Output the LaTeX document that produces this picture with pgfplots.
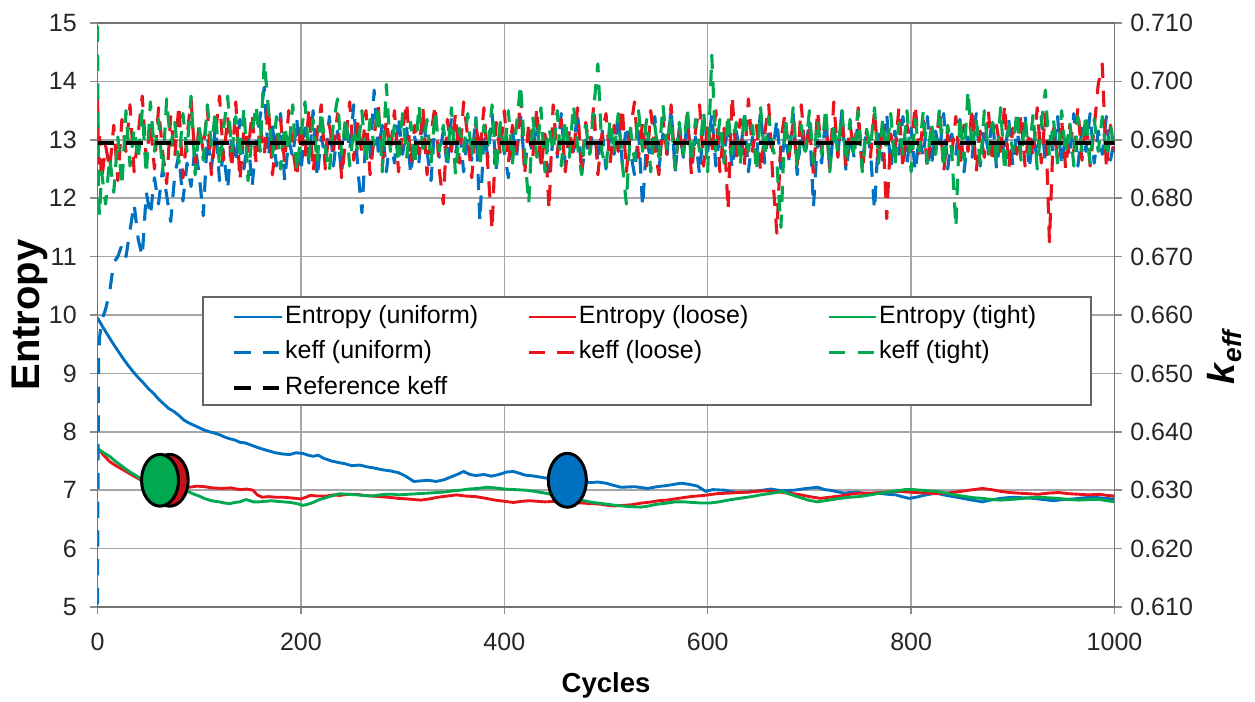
\documentclass[border=0pt]{standalone}
\usepackage{fontspec}
\setmainfont{Liberation Sans}
\usepackage{pgfplots}
\pgfplotsset{compat=1.18}
\usepackage{pgfplotstable}

\definecolor{exblue}{RGB}{0,112,192}
\definecolor{exred}{RGB}{232,20,28}
\definecolor{exgreen}{RGB}{0,168,80}

% entropy, one table per source
\pgfplotstableread{
cyc e
0 9.95
5 9.80
10 9.66
15 9.52
20 9.39
25 9.26
30 9.14
35 9.03
40 8.93
45 8.84
50 8.74
55 8.66
60 8.56
65 8.48
70 8.40
75 8.35
80 8.28
85 8.20
90 8.15
95 8.11
100 8.07
105 8.03
110 8.00
115 7.98
120 7.95
125 7.91
130 7.88
135 7.86
140 7.82
145 7.81
150 7.78
156 7.74
163 7.70
169 7.67
175 7.64
182 7.62
189 7.61
195 7.64
202 7.63
207 7.60
212 7.58
217 7.60
222 7.55
230 7.50
238 7.47
244 7.45
250 7.42
258 7.43
265 7.40
272 7.38
280 7.35
288 7.33
296 7.30
303 7.24
311 7.15
318 7.16
325 7.17
333 7.15
341 7.18
348 7.23
355 7.28
360 7.32
366 7.27
372 7.25
380 7.27
387 7.24
395 7.27
402 7.31
409 7.32
415 7.29
420 7.26
430 7.24
440 7.21
450 7.19
460 7.17
472 7.15
485 7.13
492 7.14
500 7.12
508 7.08
515 7.05
528 7.06
541 7.03
550 7.06
560 7.08
574 7.12
582 7.10
590 7.07
598 6.98
605 7.01
617 7.00
628 6.96
640 6.97
650 6.99
662 7.02
673 6.99
685 7.00
697 7.03
708 7.05
715 7.01
720 7.00
734 6.95
745 6.97
756 6.94
768 6.95
777 6.93
785 6.92
791 6.89
798 6.86
805 6.88
812 6.91
824 6.95
835 6.91
845 6.88
857 6.84
870 6.80
878 6.83
888 6.86
900 6.88
910 6.87
920 6.86
930 6.84
940 6.82
950 6.84
960 6.85
970 6.87
980 6.88
990 6.86
1000 6.85
}\entuniform

\pgfplotstableread{
cyc e
0 7.72
6 7.60
12 7.49
18 7.42
25 7.35
32 7.28
38 7.22
43 7.17
49 7.13
55 7.10
62 7.09
70 7.07
80 7.06
90 7.05
98 7.07
105 7.06
113 7.04
123 7.03
131 7.04
140 7.01
147 7.02
153 7.00
157 6.92
162 6.88
168 6.89
175 6.88
182 6.88
189 6.87
195 6.86
200 6.85
205 6.88
209 6.91
216 6.90
225 6.90
232 6.92
238 6.91
246 6.93
255 6.93
262 6.91
270 6.90
278 6.89
285 6.88
291 6.87
296 6.86
305 6.85
311 6.84
318 6.83
326 6.85
335 6.88
344 6.90
353 6.92
362 6.90
372 6.89
382 6.86
391 6.83
400 6.81
409 6.79
417 6.81
425 6.82
432 6.81
440 6.80
450 6.81
460 6.81
468 6.79
477 6.78
486 6.77
495 6.76
502 6.74
508 6.73
516 6.74
525 6.75
535 6.78
545 6.80
552 6.82
560 6.83
571 6.86
583 6.89
596 6.91
609 6.94
620 6.95
630 6.96
642 6.97
655 6.99
665 6.98
675 6.96
684 6.94
692 6.92
700 6.89
711 6.86
720 6.88
730 6.90
740 6.93
749 6.95
760 6.95
770 6.96
779 6.97
787 6.98
796 6.97
805 6.96
815 6.95
824 6.94
834 6.95
845 6.97
857 7.00
870 7.03
879 7.01
888 6.98
897 6.96
905 6.95
915 6.94
925 6.93
935 6.95
945 6.96
955 6.94
965 6.93
975 6.92
985 6.93
993 6.91
1000 6.90
}\entloose

\pgfplotstableread{
cyc e
0 7.72
6 7.64
12 7.58
18 7.49
25 7.40
32 7.31
38 7.25
42 7.20
48 7.15
55 7.10
62 7.06
70 7.03
80 6.99
90 6.97
95 6.93
100 6.90
105 6.86
110 6.83
115 6.81
120 6.80
125 6.78
130 6.77
135 6.79
140 6.80
146 6.84
150 6.82
153 6.80
159 6.80
165 6.81
171 6.82
176 6.81
183 6.80
190 6.79
196 6.77
202 6.74
207 6.76
212 6.79
217 6.83
222 6.86
230 6.90
238 6.94
246 6.93
255 6.92
262 6.91
270 6.90
278 6.92
285 6.93
291 6.93
296 6.92
305 6.93
315 6.94
325 6.95
334 6.96
342 6.97
350 6.99
357 7.00
365 7.02
374 7.03
383 7.05
391 7.04
400 7.02
410 7.01
421 7.00
430 6.98
440 6.95
449 6.92
458 6.89
466 6.86
475 6.83
484 6.80
492 6.78
501 6.76
510 6.74
522 6.72
534 6.71
542 6.73
550 6.76
560 6.78
568 6.80
577 6.80
585 6.79
594 6.78
602 6.78
611 6.80
620 6.83
631 6.86
643 6.89
652 6.92
660 6.94
667 6.96
673 6.98
681 6.93
690 6.88
699 6.83
708 6.80
719 6.83
730 6.86
740 6.88
749 6.89
760 6.92
770 6.95
782 6.98
794 7.01
802 7.01
810 7.00
817 6.99
824 6.98
832 6.96
840 6.93
847 6.91
854 6.89
862 6.87
870 6.86
879 6.84
888 6.83
896 6.84
905 6.85
915 6.87
925 6.88
935 6.87
945 6.86
955 6.84
965 6.83
975 6.84
985 6.84
993 6.82
1000 6.80
}\enttight

% keff (every 4th cycle after the start): uniform, loose, tight
\pgfplotstableread{
cyc u l t
0 0.6105 0.6975 0.7095
1 0.6520 0.6860 0.6800
2 0.6560 0.6905 0.6770
4 0.6590 0.6830 0.6845
8 0.6610 0.6890 0.6790
12 0.6640 0.6850 0.6870
16 0.6690 0.6925 0.6810
20 0.6700 0.6830 0.6905
24 0.6720 0.6935 0.6820
28 0.6700 0.6880 0.6950
32 0.6745 0.6960 0.6855
36 0.6790 0.6845 0.6920
40 0.6730 0.6910 0.6865
44 0.6700 0.6975 0.6950
48 0.6810 0.6865 0.6840
52 0.6770 0.6930 0.6965
56 0.6835 0.6850 0.6880
60 0.6790 0.6955 0.6935
64 0.6850 0.6880 0.6845
68 0.6805 0.6825 0.6970
72 0.6760 0.6940 0.6890
76 0.6840 0.6870 0.6930
80 0.6875 0.6960 0.6860
84 0.6795 0.6835 0.6945
88 0.6860 0.6905 0.6880
92 0.6820 0.6970 0.6975
96 0.6890 0.6860 0.6840
100 0.6840 0.6925 0.6925
104 0.6770 0.6880 0.6865
108 0.6905 0.6955 0.6960
112 0.6850 0.6840 0.6890
116 0.6925 0.6910 0.6950
120 0.6830 0.6975 0.6855
124 0.6880 0.6865 0.6920
128 0.6815 0.6940 0.6975
132 0.6910 0.6850 0.6880
136 0.6860 0.6965 0.6940
140 0.6935 0.6830 0.6865
144 0.6850 0.6920 0.6955
148 0.6905 0.6880 0.6830
152 0.6820 0.6945 0.6910
156 0.6895 0.6860 0.6960
160 0.6940 0.6925 0.6880
164 0.6990 0.6875 0.7035
168 0.6870 0.6960 0.6955
172 0.6925 0.6840 0.6870
176 0.6855 0.6905 0.6940
180 0.6945 0.6935 0.6850
184 0.6830 0.6860 0.6925
188 0.6900 0.6950 0.6880
192 0.6870 0.6885 0.6960
196 0.6935 0.6835 0.6845
200 0.6845 0.6930 0.6905
204 0.6920 0.6870 0.6965
208 0.6860 0.6955 0.6870
212 0.6950 0.6845 0.6935
216 0.6835 0.6910 0.6860
220 0.6905 0.6960 0.6950
224 0.6870 0.6850 0.6885
228 0.6940 0.6925 0.6845
232 0.6855 0.6880 0.6930
236 0.6915 0.6945 0.6970
240 0.6840 0.6835 0.6875
244 0.6935 0.6900 0.6940
248 0.6880 0.6965 0.6855
252 0.6960 0.6865 0.6920
256 0.6850 0.6930 0.6880
260 0.6775 0.6875 0.6950
264 0.6910 0.6950 0.6860
268 0.6865 0.6840 0.6935
272 0.6985 0.6905 0.6890
276 0.6880 0.6960 0.6960
280 0.6925 0.6855 0.6845
284 0.6845 0.6935 0.6995
288 0.6905 0.6880 0.6880
292 0.6860 0.6950 0.6925
296 0.6940 0.6845 0.6860
300 0.6875 0.6915 0.6945
304 0.6920 0.6965 0.6870
308 0.6840 0.6860 0.6930
312 0.6905 0.6925 0.6855
316 0.6860 0.6875 0.6960
320 0.6945 0.6955 0.6885
324 0.6880 0.6840 0.6935
328 0.6830 0.6910 0.6860
332 0.6935 0.6960 0.6950
336 0.6870 0.6850 0.6880
340 0.6915 0.6790 0.6925
344 0.6850 0.6935 0.6865
348 0.6940 0.6880 0.6955
352 0.6875 0.6945 0.6840
356 0.6920 0.6860 0.6920
360 0.6845 0.6965 0.6880
364 0.6905 0.6905 0.6945
368 0.6865 0.6835 0.6870
372 0.6940 0.6925 0.6935
376 0.6760 0.6880 0.6855
380 0.6910 0.6955 0.6925
384 0.6870 0.6850 0.6890
388 0.6945 0.6745 0.6960
392 0.6850 0.6930 0.6845
396 0.6925 0.6875 0.6930
400 0.6880 0.6950 0.6875
404 0.6835 0.6860 0.6950
408 0.6915 0.6925 0.6860
412 0.6870 0.6880 0.6925
416 0.6940 0.6975 0.6995
420 0.6855 0.6840 0.6880
424 0.6905 0.6930 0.6790
428 0.6875 0.6870 0.6940
432 0.6935 0.6955 0.6870
436 0.6860 0.6850 0.6955
440 0.6920 0.6910 0.6845
444 0.6845 0.6780 0.6920
448 0.6900 0.6960 0.6880
452 0.6870 0.6875 0.6950
456 0.6945 0.6935 0.6855
460 0.6855 0.6845 0.6935
464 0.6915 0.6920 0.6870
468 0.6880 0.6870 0.6960
472 0.6950 0.6955 0.6890
476 0.6840 0.6850 0.6840
480 0.6900 0.6930 0.6925
484 0.6870 0.6885 0.6875
488 0.6935 0.6960 0.6955
492 0.6860 0.6840 0.7030
496 0.6920 0.6910 0.6880
500 0.6850 0.6945 0.6850
504 0.6910 0.6860 0.6935
508 0.6875 0.6925 0.6875
512 0.6945 0.6880 0.6945
516 0.6860 0.6955 0.6860
520 0.6925 0.6845 0.6790
524 0.6880 0.6915 0.6920
528 0.6840 0.6965 0.6865
532 0.6915 0.6870 0.6950
536 0.6785 0.6930 0.6880
540 0.6900 0.6855 0.6935
544 0.6865 0.6950 0.6845
548 0.6940 0.6885 0.6925
552 0.6850 0.6840 0.6870
556 0.6910 0.6935 0.6960
560 0.6875 0.6875 0.6885
564 0.6955 0.6960 0.6940
568 0.6845 0.6850 0.6850
572 0.6920 0.6920 0.6930
576 0.6870 0.6870 0.6875
580 0.6935 0.6945 0.6955
584 0.6860 0.6840 0.6860
588 0.6905 0.6915 0.6935
592 0.6840 0.6960 0.6880
596 0.6925 0.6855 0.6950
600 0.6880 0.6930 0.6845
604 0.6945 0.6875 0.7045
608 0.6855 0.6950 0.6880
612 0.6910 0.6845 0.6935
616 0.6865 0.6920 0.6860
620 0.6935 0.6780 0.6945
624 0.6850 0.6975 0.6875
628 0.6915 0.6870 0.6930
632 0.6875 0.6935 0.6855
636 0.6940 0.6855 0.6950
640 0.6845 0.6970 0.6880
644 0.6905 0.6880 0.6925
648 0.6870 0.6925 0.6845
652 0.6950 0.6845 0.6955
656 0.6860 0.6910 0.6870
660 0.6920 0.6960 0.6940
664 0.6880 0.6835 0.6885
668 0.6935 0.6740 0.6860
672 0.6850 0.6900 0.6750
676 0.6910 0.6945 0.6935
680 0.6865 0.6870 0.6880
684 0.6945 0.6930 0.6955
688 0.6840 0.6855 0.6850
692 0.6915 0.6960 0.6925
696 0.6875 0.6875 0.6880
700 0.6935 0.6925 0.6950
704 0.6785 0.6840 0.6860
708 0.6900 0.6950 0.6935
712 0.6860 0.6880 0.6875
716 0.6940 0.6935 0.6955
720 0.6850 0.6850 0.6845
724 0.6920 0.6965 0.6925
728 0.6875 0.6870 0.6880
732 0.6950 0.6940 0.6950
736 0.6845 0.6855 0.6860
740 0.6905 0.6925 0.6935
744 0.6870 0.6880 0.6870
748 0.6935 0.6955 0.6950
752 0.6855 0.6845 0.6845
756 0.6920 0.6915 0.6920
760 0.6880 0.6870 0.6885
764 0.6780 0.6950 0.6955
768 0.6910 0.6860 0.6860
772 0.6865 0.6930 0.6935
776 0.6945 0.6765 0.6880
780 0.6850 0.6910 0.6945
784 0.6915 0.6875 0.6855
788 0.6875 0.6955 0.6930
792 0.6940 0.6850 0.6875
796 0.6860 0.6925 0.6950
800 0.6920 0.6880 0.6845
804 0.6845 0.6960 0.6935
808 0.6905 0.6870 0.6880
812 0.6870 0.6935 0.6950
816 0.6940 0.6850 0.6860
820 0.6855 0.6920 0.6930
824 0.6915 0.6875 0.6875
828 0.6880 0.6955 0.6955
832 0.6945 0.6845 0.6850
836 0.6850 0.6910 0.6925
840 0.6910 0.6875 0.6880
844 0.6875 0.6940 0.6750
848 0.6935 0.6860 0.6940
852 0.6845 0.6925 0.6865
856 0.6905 0.6880 0.6985
860 0.6870 0.6955 0.6880
864 0.6945 0.6845 0.6935
868 0.6855 0.6915 0.6855
872 0.6920 0.6870 0.6950
876 0.6880 0.6950 0.6875
880 0.6940 0.6860 0.6930
884 0.6850 0.6925 0.6860
888 0.6910 0.6880 0.6955
892 0.6870 0.6960 0.6845
896 0.6935 0.6850 0.6925
900 0.6855 0.6920 0.6880
904 0.6915 0.6875 0.6950
908 0.6880 0.6945 0.6865
912 0.6945 0.6855 0.6935
916 0.6850 0.6915 0.6875
920 0.6905 0.6870 0.6945
924 0.6870 0.6955 0.6850
928 0.6940 0.6860 0.6925
932 0.6860 0.6945 0.6985
936 0.6915 0.6725 0.6870
940 0.6875 0.6920 0.6935
944 0.6940 0.6870 0.6860
948 0.6855 0.6935 0.6950
952 0.6910 0.6850 0.6875
956 0.6870 0.6925 0.6930
960 0.6945 0.6880 0.6855
964 0.6855 0.6955 0.6940
968 0.6920 0.6865 0.6880
972 0.6880 0.6935 0.6945
976 0.6945 0.6855 0.6860
980 0.6860 0.6920 0.6935
984 0.6915 0.6995 0.6880
988 0.6875 0.7030 0.6940
992 0.6940 0.6850 0.6870
996 0.6865 0.6925 0.6925
1000 0.6900 0.6880 0.6880
}\keffdata

\pgfplotsset{
  common/.style={
    scale only axis, width=406.8pt, height=233.6pt,
    xmin=0, xmax=1000,
    tick align=outside, major tick length=2.8pt,
    tick style={black!45, line width=0.6pt},
    ticklabel style={font=\fontsize{10}{12}\selectfont, text=black!85},
    /pgf/number format/assume math mode=true,
    /pgf/number format/1000 sep={},
  },
  entline/.style={line width=1.15pt, line join=round},
  keffline/.style={line width=1.25pt, line join=round, line cap=butt, dash pattern=on 6.5pt off 5pt},
}

\begin{document}
\begin{tikzpicture}
\path[use as bounding box] (-39pt,-37.6pt) rectangle (463pt,242.8pt);

% left axis: entropy
\begin{axis}[common,
  ymin=5, ymax=15,
  xtick={0,200,...,1000}, ytick={5,6,...,15},
  xtick pos=bottom, ytick pos=left,
  xticklabel style={yshift=-4pt},
  yticklabel style={xshift=-2pt},
  grid=major, major grid style={black!35, line width=0.6pt},
  axis line style={black!55, line width=0.7pt},
  xlabel={Cycles}, ylabel={Entropy},
  xlabel style={font=\bfseries\fontsize{11}{13}\selectfont, at={(axis description cs:0.5,0)}, anchor=center, yshift=-31.2pt},
  ylabel style={font=\bfseries\fontsize{16}{18}\selectfont, at={(axis description cs:-0.0664,0.5)}, anchor=center},
]
\addplot[entline, exblue] table[x=cyc, y=e] {\entuniform};
\addplot[entline, exred] table[x=cyc, y=e] {\entloose};
\addplot[entline, exgreen] table[x=cyc, y=e] {\enttight};
% source convergence markers
\addplot[only marks, mark=*, mark size=7.4pt, mark options={draw=black, line width=1.2pt, fill=exred!85!black, yscale=1.4}] coordinates {(71,7.17)};
\addplot[only marks, mark=*, mark size=7.4pt, mark options={draw=black, line width=1.2pt, fill=exgreen, yscale=1.4}] coordinates {(61.5,7.17)};
\addplot[only marks, mark=*, mark size=7.6pt, mark options={draw=black, line width=1.2pt, fill=exblue, yscale=1.42}] coordinates {(462,7.17)};
\end{axis}

% right axis: keff
\begin{axis}[common,
  ymin=0.61, ymax=0.71,
  axis x line=none, axis y line*=right,
  axis line style={black!55, line width=0.7pt},
  ytick={0.61,0.62,0.63,0.64,0.65,0.66,0.67,0.68,0.69,0.70,0.71},
  yticklabels={0.610,0.620,0.630,0.640,0.650,0.660,0.670,0.680,0.690,0.700,0.710},
  ylabel={\textbf{\textit{k}}\textsubscript{\textbf{\textit{eff}}}},
  ylabel style={font=\fontsize{15}{17}\selectfont, at={(axis description cs:1.108,0.43)}, anchor=center},
  legend columns=3,
  legend cell align=left,
  legend image code/.code={\draw[#1] (0pt,0pt) -- (19pt,0pt);},
  legend style={at={(axis description cs:0.1037,0.5308)}, anchor=north west,
    draw=none, fill=none, inner xsep=11.6pt, inner ysep=2.8pt,
    row sep=4.2pt, column sep=0pt,
    nodes={inner xsep=0.5pt, inner ysep=0pt, text height=7.5pt, text depth=2.5pt, font=\fontsize{10}{12}\selectfont},
    /tikz/column 2/.style={column sep=19pt},
    /tikz/column 4/.style={column sep=31pt}},
]
\addlegendimage{entline, exblue}\addlegendentry{Entropy (uniform)}
\addlegendimage{entline, exred}\addlegendentry{Entropy (loose)}
\addlegendimage{entline, exgreen}\addlegendentry{Entropy (tight)}
\addplot[keffline, exblue] table[x=cyc, y=u] {\keffdata};
\addlegendentry{keff (uniform)}
\addplot[keffline, exred] table[x=cyc, y=l] {\keffdata};
\addlegendentry{keff (loose)}
\addplot[keffline, exgreen] table[x=cyc, y=t] {\keffdata};
\addlegendentry{keff (tight)}
\addplot[line width=1.6pt, black, line cap=butt, dash pattern=on 6.5pt off 5pt] coordinates {(0,0.6894) (1000,0.6894)};
\addlegendentry{Reference keff}
\draw[black!60, line width=0.8pt, fill=white] (axis description cs:0.1037,0.5308) rectangle (axis description cs:0.9769,0.3459);
\end{axis}
\end{tikzpicture}
\end{document}
